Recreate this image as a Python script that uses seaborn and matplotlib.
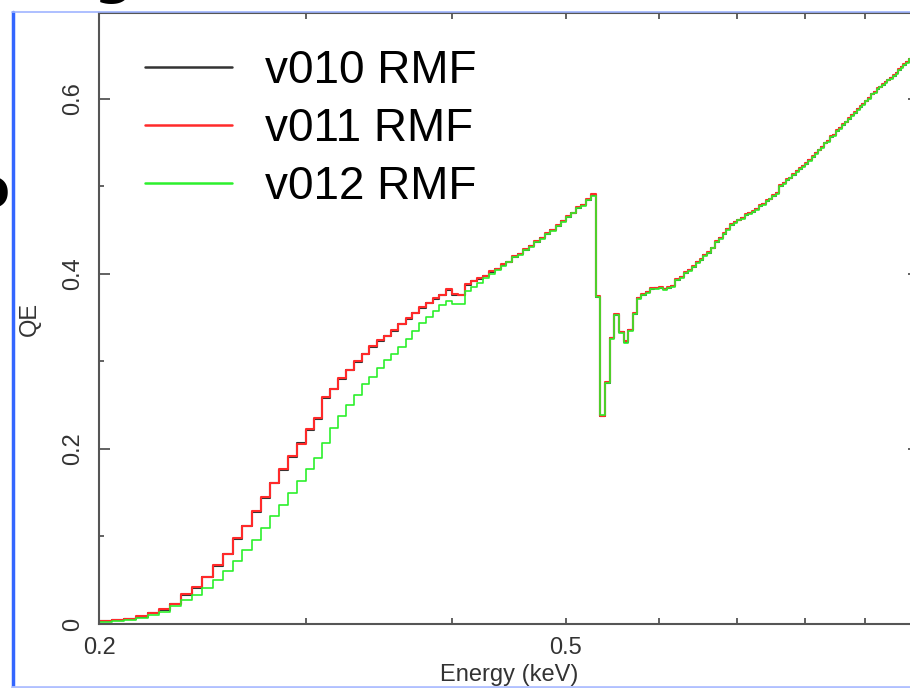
import matplotlib
matplotlib.use("Agg")
import numpy as np
import pandas as pd
import matplotlib.pyplot as plt
from matplotlib.ticker import FixedLocator, FixedFormatter, NullFormatter
from matplotlib.lines import Line2D
import seaborn as sns

# ---------------- data ----------------
# lower edges of the 5 eV energy channels (keV)
energy_lo = [
    0.200, 0.205, 0.210, 0.215, 0.220, 0.225, 0.230, 0.235, 0.240, 0.245,
    0.250, 0.255, 0.260, 0.265, 0.270, 0.275, 0.280, 0.285, 0.290, 0.295,
    0.300, 0.305, 0.310, 0.315, 0.320, 0.325, 0.330, 0.335, 0.340, 0.345,
    0.350, 0.355, 0.360, 0.365, 0.370, 0.375, 0.380, 0.385, 0.390, 0.395,
    0.400, 0.405, 0.410, 0.415, 0.420, 0.425, 0.430, 0.435, 0.440, 0.445,
    0.450, 0.455, 0.460, 0.465, 0.470, 0.475, 0.480, 0.485, 0.490, 0.495,
    0.500, 0.505, 0.510, 0.515, 0.520, 0.525, 0.530, 0.535, 0.540, 0.545,
    0.550, 0.555, 0.560, 0.565, 0.570, 0.575, 0.580, 0.585, 0.590, 0.595,
    0.600, 0.605, 0.610, 0.615, 0.620, 0.625, 0.630, 0.635, 0.640, 0.645,
    0.650, 0.655, 0.660, 0.665, 0.670, 0.675, 0.680, 0.685, 0.690, 0.695,
    0.700, 0.705, 0.710, 0.715, 0.720, 0.725, 0.730, 0.735, 0.740, 0.745,
    0.750, 0.755, 0.760, 0.765, 0.770, 0.775, 0.780, 0.785, 0.790, 0.795,
    0.800, 0.805, 0.810, 0.815, 0.820, 0.825, 0.830, 0.835, 0.840, 0.845,
    0.850, 0.855, 0.860, 0.865, 0.870, 0.875, 0.880, 0.885, 0.890, 0.895,
    0.900, 0.905, 0.910, 0.915, 0.920, 0.925, 0.930, 0.935, 0.940, 0.945,
    0.950, 0.955, 0.960, 0.965, 0.970, 0.975, 0.980, 0.985, 0.990, 0.995,
]
energy_last_edge = 1.000

qe_v010 = [
    0.003, 0.004, 0.006, 0.008, 0.012, 0.016, 0.023, 0.033, 0.041, 0.054,
    0.066, 0.080, 0.097, 0.112, 0.128, 0.144, 0.161, 0.176, 0.191, 0.207,
    0.222, 0.234, 0.258, 0.269, 0.280, 0.290, 0.299, 0.309, 0.317, 0.323,
    0.329, 0.335, 0.343, 0.349, 0.355, 0.361, 0.367, 0.371, 0.376, 0.382,
    0.376, 0.376, 0.387, 0.392, 0.394, 0.398, 0.402, 0.405, 0.410, 0.414,
    0.419, 0.423, 0.427, 0.432, 0.436, 0.441, 0.446, 0.450, 0.455, 0.460,
    0.465, 0.470, 0.475, 0.479, 0.484, 0.490, 0.374, 0.238, 0.275, 0.327,
    0.353, 0.334, 0.322, 0.336, 0.354, 0.372, 0.376, 0.379, 0.383, 0.384,
    0.384, 0.383, 0.384, 0.386, 0.393, 0.396, 0.401, 0.404, 0.408, 0.413,
    0.416, 0.421, 0.424, 0.430, 0.436, 0.441, 0.446, 0.451, 0.456, 0.459,
    0.461, 0.464, 0.467, 0.469, 0.471, 0.474, 0.478, 0.480, 0.483, 0.486,
    0.489, 0.492, 0.500, 0.504, 0.507, 0.510, 0.513, 0.517, 0.520, 0.523,
    0.526, 0.530, 0.534, 0.538, 0.541, 0.545, 0.549, 0.552, 0.556, 0.559,
    0.563, 0.567, 0.570, 0.574, 0.577, 0.581, 0.584, 0.588, 0.591, 0.594,
    0.597, 0.601, 0.605, 0.608, 0.611, 0.614, 0.616, 0.619, 0.621, 0.624,
    0.626, 0.629, 0.633, 0.636, 0.639, 0.642, 0.645, 0.648, 0.651, 0.654,
]

qe_v011 = [
    0.003, 0.004, 0.006, 0.009, 0.012, 0.017, 0.023, 0.034, 0.042, 0.054,
    0.067, 0.080, 0.098, 0.112, 0.129, 0.145, 0.161, 0.177, 0.192, 0.206,
    0.223, 0.235, 0.259, 0.269, 0.281, 0.290, 0.300, 0.309, 0.318, 0.324,
    0.329, 0.336, 0.343, 0.350, 0.355, 0.362, 0.367, 0.372, 0.376, 0.383,
    0.377, 0.376, 0.388, 0.392, 0.395, 0.398, 0.403, 0.405, 0.411, 0.414,
    0.420, 0.423, 0.428, 0.432, 0.437, 0.441, 0.447, 0.450, 0.456, 0.460,
    0.466, 0.470, 0.476, 0.479, 0.485, 0.491, 0.375, 0.238, 0.276, 0.327,
    0.354, 0.334, 0.323, 0.336, 0.355, 0.372, 0.377, 0.379, 0.384, 0.384,
    0.385, 0.383, 0.385, 0.386, 0.394, 0.396, 0.402, 0.404, 0.409, 0.413,
    0.417, 0.421, 0.425, 0.430, 0.437, 0.441, 0.447, 0.451, 0.457, 0.459,
    0.462, 0.464, 0.468, 0.469, 0.472, 0.474, 0.479, 0.480, 0.484, 0.486,
    0.490, 0.492, 0.501, 0.504, 0.508, 0.510, 0.514, 0.517, 0.521, 0.523,
    0.527, 0.530, 0.535, 0.538, 0.542, 0.545, 0.550, 0.552, 0.557, 0.559,
    0.564, 0.567, 0.571, 0.574, 0.578, 0.581, 0.585, 0.588, 0.592, 0.594,
    0.598, 0.601, 0.606, 0.608, 0.612, 0.614, 0.617, 0.619, 0.622, 0.624,
    0.627, 0.629, 0.634, 0.636, 0.640, 0.642, 0.646, 0.648, 0.652, 0.654,
]

qe_v012 = [
    0.002, 0.003, 0.005, 0.007, 0.010, 0.014, 0.020, 0.027, 0.033, 0.041,
    0.050, 0.060, 0.072, 0.085, 0.096, 0.110, 0.123, 0.136, 0.150, 0.163,
    0.177, 0.190, 0.207, 0.224, 0.238, 0.250, 0.262, 0.274, 0.282, 0.292,
    0.302, 0.309, 0.317, 0.326, 0.335, 0.344, 0.351, 0.358, 0.364, 0.369,
    0.365, 0.365, 0.380, 0.385, 0.390, 0.395, 0.400, 0.404, 0.409, 0.414,
    0.419, 0.422, 0.427, 0.431, 0.436, 0.440, 0.446, 0.449, 0.455, 0.459,
    0.465, 0.469, 0.475, 0.478, 0.484, 0.489, 0.374, 0.239, 0.275, 0.326,
    0.353, 0.333, 0.321, 0.335, 0.354, 0.371, 0.376, 0.378, 0.383, 0.383,
    0.384, 0.382, 0.384, 0.385, 0.393, 0.395, 0.401, 0.403, 0.408, 0.412,
    0.416, 0.420, 0.424, 0.429, 0.436, 0.440, 0.446, 0.450, 0.456, 0.458,
    0.461, 0.463, 0.467, 0.468, 0.471, 0.473, 0.478, 0.479, 0.483, 0.485,
    0.489, 0.491, 0.500, 0.503, 0.507, 0.509, 0.513, 0.516, 0.520, 0.522,
    0.526, 0.529, 0.534, 0.537, 0.541, 0.544, 0.549, 0.551, 0.556, 0.558,
    0.563, 0.566, 0.570, 0.573, 0.577, 0.580, 0.584, 0.587, 0.591, 0.593,
    0.597, 0.600, 0.605, 0.607, 0.611, 0.613, 0.616, 0.618, 0.621, 0.623,
    0.626, 0.628, 0.633, 0.635, 0.639, 0.641, 0.645, 0.647, 0.651, 0.653,
]

series_labels = ["v010 RMF", "v011 RMF", "v012 RMF"]
series_colors = ["#333333", "#ff2a2a", "#2cf02c"]

x_major_ticks = [0.2, 0.5]
x_major_labels = ["0.2", "0.5"]
x_minor_ticks = [0.3, 0.4, 0.6, 0.7, 0.8, 0.9, 1.0]
y_major_ticks = [0.0, 0.2, 0.4, 0.6]
y_major_labels = ["0", "0.2", "0.4", "0.6"]
y_minor_ticks = [0.1, 0.3, 0.5]

x_label = "Energy (keV)"
y_label = "QE"

# ---------------- build table ----------------
frames = []
for lab, vals in zip(series_labels, [qe_v010, qe_v011, qe_v012]):
    frames.append(pd.DataFrame({
        "energy": list(energy_lo) + [energy_last_edge],
        "qe": list(vals) + [vals[-1]],
        "rmf": lab,
    }))
df = pd.concat(frames, ignore_index=True)

# ---------------- plot ----------------
sns.set_theme(style="ticks")
plt.rcParams["font.family"] = ["Liberation Sans", "DejaVu Sans"]

W, H = 910, 688
fig = plt.figure(figsize=(W / 100, H / 100), dpi=100)
fig.patch.set_facecolor("white")
ax = fig.add_axes([99 / W, (H - 624) / H, 820 / W, 611 / H])
ax.set_facecolor("white")
ax.set_xscale("log")

sns.lineplot(
    data=df, x="energy", y="qe", hue="rmf",
    palette=dict(zip(series_labels, series_colors)),
    hue_order=series_labels,
    estimator=None, sort=False, drawstyle="steps-post",
    linewidth=1.5, ax=ax, legend=False,
)
# green curve a little thinner, as in the reference
ax.get_lines()[2].set_linewidth(1.2)

ax.set_xlim(0.2, 1.0)
ax.set_ylim(0.0, 0.698)

ax.xaxis.set_major_locator(FixedLocator(x_major_ticks))
ax.xaxis.set_major_formatter(FixedFormatter(x_major_labels))
ax.xaxis.set_minor_locator(FixedLocator(x_minor_ticks))
ax.xaxis.set_minor_formatter(NullFormatter())
ax.yaxis.set_major_locator(FixedLocator(y_major_ticks))
ax.yaxis.set_major_formatter(FixedFormatter(y_major_labels))
ax.yaxis.set_minor_locator(FixedLocator(y_minor_ticks))
ax.yaxis.set_minor_formatter(NullFormatter())

ax.tick_params(axis="both", which="both", direction="in", top=True, right=True,
               color="#555555", labelcolor="#333333", width=1.3)
ax.tick_params(axis="x", which="both", length=4.5, labelsize=17, pad=9)
ax.tick_params(axis="y", which="major", length=8, labelsize=17, pad=11)
ax.tick_params(axis="y", which="minor", length=3.6)
for t in ax.get_yticklabels():
    t.set_rotation(90)
    t.set_va("center")

for sp in ax.spines.values():
    sp.set_color("#555555")
    sp.set_linewidth(1.5)

ax.set_xlabel(x_label, fontsize=17, color="#333333", labelpad=4)
ax.set_ylabel(y_label, fontsize=17, color="#333333", labelpad=15)

handles = [Line2D([], [], color=c, lw=1.8) for c in series_colors]
ax.legend(handles, series_labels, loc="upper left",
          bbox_to_anchor=(0.056, 0.941), frameon=False, fontsize=33,
          handlelength=1.9, handletextpad=0.72, labelspacing=0.30,
          borderpad=0, borderaxespad=0, labelcolor="black")

# slide frame around the screenshot
fig.add_artist(Line2D([12.5 / W, 12.5 / W], [0, 1 - 12 / H],
                      transform=fig.transFigure, color="#3366ff", lw=2.5))
fig.add_artist(Line2D([12 / W, 1], [1 - 12 / H, 1 - 12 / H],
                      transform=fig.transFigure, color="#9fb4ff", lw=1.2))
fig.add_artist(Line2D([12 / W, 1], [1 - 687 / H, 1 - 687 / H],
                      transform=fig.transFigure, color="#b0c0ff", lw=2))

# fragments of slide text cut by the screenshot edges
fig.text(93 / W, 1 + 8 / H, "g", fontsize=40, fontweight="bold",
         family="DejaVu Sans", ha="left", va="baseline", color="black")
fig.text(10 / W, 1 - 207 / H, "o", fontsize=40, fontweight="bold",
         family="DejaVu Sans", ha="right", va="baseline", color="black")

fig.savefig("out.png", dpi=100)
